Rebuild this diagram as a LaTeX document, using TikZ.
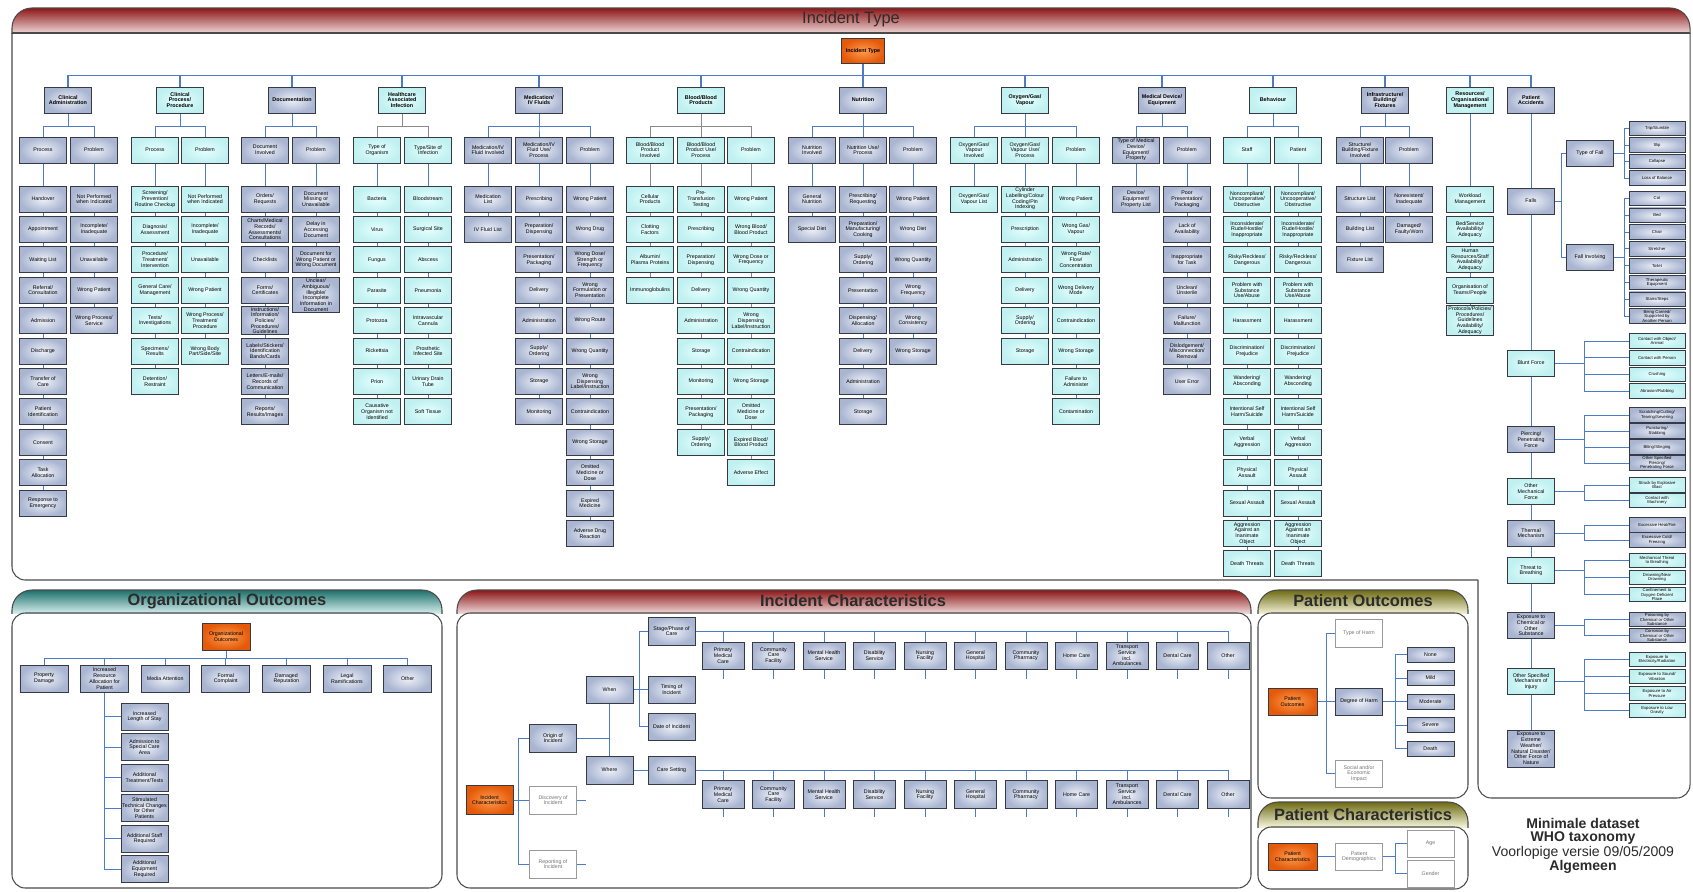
\documentclass[tikz,border=0pt]{standalone}
\usepackage{fontspec}
\setmainfont{Liberation Sans}
\definecolor{boxin}{HTML}{EEF1F8}
\definecolor{boxout}{HTML}{A9B5D1}
\definecolor{cyanin}{HTML}{E6FFFF}
\definecolor{cyanout}{HTML}{C0F0F0}
\definecolor{boxedge}{HTML}{353A44}
\definecolor{orin}{HTML}{FF9B4F}
\definecolor{orout}{HTML}{E45A0A}
\definecolor{wedge}{HTML}{9A9A9A}
\definecolor{linkblue}{HTML}{4C7CC6}
\definecolor{linkgray}{HTML}{8A8A8A}
\definecolor{frame}{HTML}{4A4A4A}
\definecolor{itred}{HTML}{8C1616}
\definecolor{itredlow}{HTML}{EED6D6}
\definecolor{ootop}{HTML}{1D6F6A}
\definecolor{oolow}{HTML}{D3ECEB}
\definecolor{potop}{HTML}{6E6A14}
\definecolor{polow}{HTML}{EFEFD2}
\definecolor{titletext}{HTML}{2B2B2B}
\pgfdeclarelayer{bottom}
\pgfdeclarelayer{background}
\pgfsetlayers{bottom,background,main}

\begin{document}
\begin{tikzpicture}[x=0.03cm, y=-0.03cm,
    box/.style={draw=boxedge, line width=0.8pt, minimum width=1.41cm, minimum height=0.78cm, inner sep=0.8pt, align=center, font=\fontsize{4.5}{4.9}\selectfont},
    gbox/.style={box, inner color=boxin, outer color=boxout},
    cbox/.style={box, inner color=cyanin, outer color=cyanout},
    wbox/.style={box, fill=white, draw=wedge, text=black!55},
    obox/.style={box, inner color=orin, outer color=orout},
    catbox/.style={font=\fontsize{4.6}{5}\selectfont\bfseries},
    tinybox/.style={minimum width=1.68cm, minimum height=0.44cm, inner sep=0.4pt, font=\fontsize{3.6}{3.9}\selectfont},
    link/.style={draw=linkblue, line width=0.8pt},
    glink/.style={draw=linkgray, line width=0.8pt},
    panel/.style={draw=frame, line width=0.9pt},
    paneltitle/.style={font=\fontsize{14}{14}\selectfont\bfseries, text=titletext}]
    \begin{pgfonlayer}{bottom}
        \fill[white] (0,0) rectangle (1693,891);
    \end{pgfonlayer}
    \useasboundingbox (0,0) rectangle (1693,891);

    % panels
    \begin{scope}
        \clip (0,0) rectangle (1693,33);
        \shade[top color=itred, bottom color=white, middle color=itredlow, draw=frame, line width=0.9pt, rounded corners=0.6cm] (12,8) rectangle (1690,58);
    \end{scope}
    \draw[panel] (12,33) -- (1690,33);
    \draw[panel, rounded corners=0.4cm] (12,33) -- (12,580) -- (1478,580);
    \draw[panel, rounded corners=0.4cm] (1478,580) -- (1478,798) -- (1690,798) -- (1690,33);
    \node[font=\fontsize{14}{14}\selectfont, text=titletext] (ittitle) at (851,19) {Incident Type};

    \begin{scope}
        \clip (8,586) rectangle (446,613);
        \shade[top color=ootop, bottom color=white, middle color=oolow, draw=frame, line width=0.9pt, rounded corners=0.6cm] (12,590) rectangle (442,636);
    \end{scope}
    \draw[panel, rounded corners=0.4cm] (12,613) -- (12,888) -- (442,888) -- (442,613) -- cycle;
    \node[paneltitle] (ootitle) at (227,601) {Organizational Outcomes};

    \begin{scope}
        \clip (453,586) rectangle (1255,613);
        \shade[top color=itred, bottom color=white, middle color=itredlow, draw=frame, line width=0.9pt, rounded corners=0.6cm] (457,590) rectangle (1251,636);
    \end{scope}
    \draw[panel, rounded corners=0.4cm] (457,613) -- (457,888) -- (1251,888) -- (1251,613) -- cycle;
    \node[paneltitle] (ictitle) at (853,601) {Incident Characteristics};

    \begin{scope}
        \clip (1254,586) rectangle (1472,613);
        \shade[top color=potop, bottom color=white, middle color=polow, draw=frame, line width=0.9pt, rounded corners=0.6cm] (1258,590) rectangle (1468,636);
    \end{scope}
    \draw[panel, rounded corners=0.4cm] (1258,613) -- (1258,798) -- (1468,798) -- (1468,613) -- cycle;
    \node[paneltitle] (potitle) at (1363,601) {Patient Outcomes};

    \begin{scope}
        \clip (1254,798) rectangle (1472,827);
        \shade[top color=potop, bottom color=white, middle color=polow, draw=frame, line width=0.9pt, rounded corners=0.6cm] (1258,802) rectangle (1468,850);
    \end{scope}
    \draw[panel, rounded corners=0.4cm] (1258,827) -- (1258,889) -- (1468,889) -- (1468,827) -- cycle;
    \node[paneltitle] (pctitle) at (1363,814.5) {Patient Characteristics};

    % incident type: root and categories
    \node[obox, catbox, minimum width=1.29cm, minimum height=0.75cm] (root) at (863,51) {Incident Type};
    \node[gbox, catbox] (ca) at (68,100) {Clinical\\Administration};
    \node[cbox, catbox] (cp) at (180,100) {Clinical\\Process/\\Procedure};
    \node[gbox, catbox] (doc) at (292,100) {Documentation};
    \node[cbox, catbox] (hai) at (402,100) {Healthcare\\Associated\\Infection};
    \node[gbox, catbox] (med) at (539,100) {Medication/\\IV Fluids};
    \node[cbox, catbox] (bld) at (701,100) {Blood/Blood\\Products};
    \node[gbox, catbox] (nut) at (863,100) {Nutrition};
    \node[cbox, catbox] (oxy) at (1025,100) {Oxygen/Gas/\\Vapour};
    \node[gbox, catbox] (dev) at (1162,100) {Medical Device/\\Equipment};
    \node[cbox, catbox] (beh) at (1273,100) {Behaviour};
    \node[gbox, catbox] (inf) at (1385,100) {Infrastructure/\\Building/\\Fixtures};
    \node[cbox, catbox] (res) at (1470,100) {Resources/\\Organisational\\Management};
    \node[gbox, catbox] (pa) at (1531,100) {Patient\\Accidents};

    % second level
    \node[gbox] (ca1) at (43,150) {Process};
    \node[gbox] (ca2) at (94,150) {Problem};
    \node[cbox] (cp1) at (155,150) {Process};
    \node[cbox] (cp2) at (205,150) {Problem};
    \node[gbox] (doc1) at (265,150) {Document\\Involved};
    \node[gbox] (doc2) at (316,150) {Problem};
    \node[cbox] (hai1) at (377,150) {Type of\\Organism};
    \node[cbox] (hai2) at (428,150) {Type/Site of\\Infection};
    \node[gbox] (med1) at (488,150) {Medication/IV\\Fluid Involved};
    \node[gbox] (med2) at (539,150) {Medication/IV\\Fluid Use/\\Process};
    \node[gbox] (med3) at (590,150) {Problem};
    \node[cbox] (bld1) at (650,150) {Blood/Blood\\Product\\Involved};
    \node[cbox] (bld2) at (701,150) {Blood/Blood\\Product Use/\\Process};
    \node[cbox] (bld3) at (751,150) {Problem};
    \node[gbox] (nut1) at (812,150) {Nutrition\\Involved};
    \node[gbox] (nut2) at (863,150) {Nutrition Use/\\Process};
    \node[gbox] (nut3) at (913,150) {Problem};
    \node[cbox] (oxy1) at (974,150) {Oxygen/Gas/\\Vapour\\Involved};
    \node[cbox] (oxy2) at (1025,150) {Oxygen/Gas/\\Vapour Use/\\Process};
    \node[cbox] (oxy3) at (1076,150) {Problem};
    \node[gbox] (dev1) at (1136,150) {Type of Medical\\Device/\\Equipment/\\Property};
    \node[gbox] (dev2) at (1187,150) {Problem};
    \node[cbox] (beh1) at (1247,150) {Staff};
    \node[cbox] (beh2) at (1298,150) {Patient};
    \node[gbox] (inf1) at (1360,150) {Structure/\\Building/Fixture\\Involved};
    \node[gbox] (inf2) at (1409,150) {Problem};

    % third level columns
    \foreach \t [count=\i] in {Handover, Appointment, Waiting List, {Referral/\\Consultation}, Admission, Discharge, {Transfer of\\Care}, {Patient\\Identification}, Consent, {Task\\Allocation}, {Response to\\Emergency}}
        \node[gbox] (ca1-\i) at (43,{199+30.4*(\i-1)}) {\t};
    \foreach \t [count=\i] in {{Not Performed\\when Indicated}, {Incomplete/\\Inadequate}, Unavailable, Wrong Patient, {Wrong Process/\\Service}}
        \node[gbox] (ca2-\i) at (94,{199+30.4*(\i-1)}) {\t};
    \foreach \t [count=\i] in {{Screening/\\Prevention/\\Routine Checkup}, {Diagnosis/\\Assessment}, {Procedure/\\Treatment/\\Intervention}, {General Care/\\Management}, {Tests/\\Investigations}, {Specimens/\\Results}, {Detention/\\Restraint}}
        \node[cbox] (cp1-\i) at (155,{199+30.4*(\i-1)}) {\t};
    \foreach \t [count=\i] in {{Not Performed\\when Indicated}, {Incomplete/\\Inadequate}, Unavailable, Wrong Patient, {Wrong Process/\\Treatment/\\Procedure}, {Wrong Body\\Part/Side/Site}}
        \node[cbox] (cp2-\i) at (205,{199+30.4*(\i-1)}) {\t};
    \foreach \t [count=\i] in {{Orders/\\Requests}, {Charts/Medical\\Records/\\Assessments/\\Consultations}, Checklists, {Forms/\\Certificates}, {Instructions/\\Information/\\Policies/\\Procedures/\\Guidelines}, {Labels/Stickers/\\Identification\\Bands/Cards}, {Letters/E-mails/\\Records of\\Communication}, {Reports/\\Results/Images}}
        \node[gbox] (doc1-\i) at (265,{199+30.4*(\i-1)}) {\t};
    \foreach \t [count=\i] in {{Document\\Missing or\\Unavailable}, {Delay in\\Accessing\\Document}, {Document for\\Wrong Patient or\\Wrong Document}}
        \node[gbox] (doc2-\i) at (316,{199+30.4*(\i-1)}) {\t};
    \node[gbox] (doc2-4) at (316,295) {Unclear/\\Ambiguous/\\Illegible/\\Incomplete\\Information in\\Document};
    \foreach \t [count=\i] in {Bacteria, Virus, Fungus, Parasite, Protozoa, Rickettsia, Prion, {Causative\\Organism not\\Identified}}
        \node[cbox] (hai1-\i) at (377,{199+30.4*(\i-1)}) {\t};
    \foreach \t [count=\i] in {Bloodstream, Surgical Site, Abscess, Pneumonia, {Intravascular\\Cannula}, {Prosthetic\\Infected Site}, {Urinary Drain\\Tube}, Soft Tissue}
        \node[cbox] (hai2-\i) at (428,{199+30.4*(\i-1)}) {\t};
    \foreach \t [count=\i] in {{Medication\\List}, IV Fluid List}
        \node[gbox] (med1-\i) at (488,{199+30.4*(\i-1)}) {\t};
    \foreach \t [count=\i] in {Prescribing, {Preparation/\\Dispensing}, {Presentation/\\Packaging}, Delivery, Administration, {Supply/\\Ordering}, Storage, Monitoring}
        \node[gbox] (med2-\i) at (539,{199+30.4*(\i-1)}) {\t};
    \foreach \t [count=\i] in {Wrong Patient, Wrong Drug, {Wrong Dose/\\Strength or\\Frequency}, {Wrong\\Formulation or\\Presentation}, Wrong Route, Wrong Quantity, {Wrong\\Dispensing\\Label/Instruction}, Contraindication, Wrong Storage, {Omitted\\Medicine or\\Dose}, {Expired\\Medicine}, {Adverse Drug\\Reaction}}
        \node[gbox] (med3-\i) at (590,{199+30.4*(\i-1)}) {\t};
    \foreach \t [count=\i] in {{Cellular\\Products}, {Clotting\\Factors}, {Albumin/\\Plasma Proteins}, Immunoglobulins}
        \node[cbox] (bld1-\i) at (650,{199+30.4*(\i-1)}) {\t};
    \foreach \t [count=\i] in {{Pre-\\Transfusion\\Testing}, Prescribing, {Preparation/\\Dispensing}, Delivery, Administration, Storage, Monitoring, {Presentation/\\Packaging}, {Supply/\\Ordering}}
        \node[cbox] (bld2-\i) at (701,{199+30.4*(\i-1)}) {\t};
    \foreach \t [count=\i] in {Wrong Patient, {Wrong Blood/\\Blood Product}, {Wrong Dose or\\Frequency}, Wrong Quantity, {Wrong\\Dispensing\\Label/Instruction}, Contraindication, Wrong Storage, {Omitted\\Medicine or\\Dose}, {Expired Blood/\\Blood Product}, Adverse Effect}
        \node[cbox] (bld3-\i) at (751,{199+30.4*(\i-1)}) {\t};
    \foreach \t [count=\i] in {{General\\Nutrition}, Special Diet}
        \node[gbox] (nut1-\i) at (812,{199+30.4*(\i-1)}) {\t};
    \foreach \t [count=\i] in {{Prescribing/\\Requesting}, {Preparation/\\Manufacturing/\\Cooking}, {Supply/\\Ordering}, Presentation, {Dispensing/\\Allocation}, Delivery, Administration, Storage}
        \node[gbox] (nut2-\i) at (863,{199+30.4*(\i-1)}) {\t};
    \foreach \t [count=\i] in {Wrong Patient, Wrong Diet, Wrong Quantity, {Wrong\\Frequency}, {Wrong\\Consistency}, Wrong Storage}
        \node[gbox] (nut3-\i) at (913,{199+30.4*(\i-1)}) {\t};
    \foreach \t [count=\i] in {{Oxygen/Gas/\\Vapour List}}
        \node[cbox] (oxy1-\i) at (974,{199+30.4*(\i-1)}) {\t};
    \foreach \t [count=\i] in {{Cylinder\\Labelling/Colour\\Coding/Pin\\Indexing}, Prescription, Administration, Delivery, {Supply/\\Ordering}, Storage}
        \node[cbox] (oxy2-\i) at (1025,{199+30.4*(\i-1)}) {\t};
    \foreach \t [count=\i] in {Wrong Patient, {Wrong Gas/\\Vapour}, {Wrong Rate/\\Flow/\\Concentration}, {Wrong Delivery\\Mode}, Contraindication, Wrong Storage, {Failure to\\Administer}, Contamination}
        \node[cbox] (oxy3-\i) at (1076,{199+30.4*(\i-1)}) {\t};
    \foreach \t [count=\i] in {{Device/\\Equipment/\\Property List}}
        \node[gbox] (dev1-\i) at (1136,{199+30.4*(\i-1)}) {\t};
    \foreach \t [count=\i] in {{Poor\\Presentation/\\Packaging}, {Lack of\\Availability}, {Inappropriate\\for Task}, {Unclean/\\Unsterile}, {Failure/\\Malfunction}, {Dislodgement/\\Misconnection/\\Removal}, User Error}
        \node[gbox] (dev2-\i) at (1187,{199+30.4*(\i-1)}) {\t};
    \foreach \c/\x in {beh1/1247, beh2/1298}
        \foreach \t [count=\i] in {{Noncompliant/\\Uncooperative/\\Obstructive}, {Inconsiderate/\\Rude/Hostile/\\Inappropriate}, {Risky/Reckless/\\Dangerous}, {Problem with\\Substance\\Use/Abuse}, Harassment, {Discrimination/\\Prejudice}, {Wandering/\\Absconding}, {Intentional Self\\Harm/Suicide}, {Verbal\\Aggression}, {Physical\\Assault}, Sexual Assault, {Aggression\\Against an\\Inanimate\\Object}, Death Threats}
            \node[cbox] (\c-\i) at (\x,{199+30.4*(\i-1)}) {\t};
    \foreach \t [count=\i] in {Structure List, Building List, Fixture List}
        \node[gbox] (inf1-\i) at (1360,{199+30.4*(\i-1)}) {\t};
    \foreach \t [count=\i] in {{Nonexistent/\\Inadequate}, {Damaged/\\Faulty/Worn}}
        \node[gbox] (inf2-\i) at (1409,{199+30.4*(\i-1)}) {\t};
    \foreach \t [count=\i] in {{Workload\\Management}, {Bed/Service\\Availability/\\Adequacy}, {Human\\Resources/Staff\\Availability/\\Adequacy}, {Organisation of\\Teams/People}, {Protocols/Policies/\\Procedures/\\Guidelines\\Availability/\\Adequacy}}
        \node[cbox] (res-\i) at (1470,{199+30.4*(\i-1)}) {\t};

    % patient accidents
    \node[gbox] (fall) at (1531,201) {Falls};
    \node[gbox] (tof) at (1590,153) {Type of Fall};
    \node[gbox] (finv) at (1590,257) {Fall Involving};
    \foreach \t [count=\i] in {Trip/Stumble, Slip, Collapse, Loss of Balance}
        \node[gbox, tinybox] (tf-\i) at (1657,{128.5+16.5*(\i-1)}) {\t};
    \foreach \t [count=\i] in {Cot, Bed, Chair, Stretcher, Toilet, {Therapeutic\\Equipment}, Stairs/Steps, {Being Carried/\\Supported by\\Another Person}}
        \node[gbox, tinybox] (fi-\i) at (1657,{198.5+16.8*(\i-1)}) {\t};
    \node[cbox] (blunt) at (1531,363) {Blunt Force};
    \foreach \t [count=\i] in {{Contact with Object/\\Animal}, Contact with Person, Crushing, Abrasion/Rubbing}
        \node[cbox, tinybox] (bf-\i) at (1657,{341+16.7*(\i-1)}) {\t};
    \node[gbox] (pierce) at (1531,439.5) {Piercing/\\Penetrating\\Force};
    \foreach \t [count=\i] in {{Scratching/Cutting/\\Tearing/Severing}, {Puncturing/\\Stabbing}, Biting/Stinging, {Other Specified\\Piercing/\\Penetrating Force}}
        \node[gbox, tinybox] (pf-\i) at (1657,{415+16*(\i-1)}) {\t};
    \node[cbox] (omf) at (1531,491.5) {Other\\Mechanical\\Force};
    \foreach \t [count=\i] in {{Struck by Explosive\\Blast}, {Contact with\\Machinery}}
        \node[cbox, tinybox] (mf-\i) at (1657,{485+15.5*(\i-1)}) {\t};
    \node[gbox] (therm) at (1531,533) {Thermal\\Mechanism};
    \foreach \t [count=\i] in {Excessive Heat/Fire, {Excessive Cold/\\Freezing}}
        \node[gbox, tinybox] (tm-\i) at (1657,{525+15*(\i-1)}) {\t};
    \node[cbox] (breath) at (1531,570.5) {Threat to\\Breathing};
    \foreach \t [count=\i] in {{Mechanical Threat\\to Breathing}, {Drowning/Near\\Drowning}, {Confinement to\\Oxygen-Deficient\\Place}}
        \node[cbox, tinybox] (tb-\i) at (1657,{560.5+17*(\i-1)}) {\t};
    \node[gbox] (chem) at (1531,625.5) {Exposure to\\Chemical or\\Other\\Substance};
    \foreach \t [count=\i] in {{Poisoning by\\Chemical or Other\\Substance}, {Corrosion by\\Chemical or Other\\Substance}}
        \node[gbox, tinybox] (ch-\i) at (1657,{619.5+16*(\i-1)}) {\t};
    \node[cbox] (oth) at (1531,681.5) {Other Specified\\Mechanism of\\Injury};
    \foreach \t [count=\i] in {{Exposure to\\Electricity/Radiation}, {Exposure to Sound/\\Vibration}, {Exposure to Air\\Pressure}, {Exposure to Low\\Gravity}}
        \node[cbox, tinybox] (os-\i) at (1657,{659.5+17*(\i-1)}) {\t};
    \node[gbox, minimum height=1.11cm] (weather) at (1531,748.5) {Exposure to\\Extreme\\Weather/\\Natural Disaster/\\Other Force of\\Nature};

    % organizational outcomes
    \node[obox, minimum width=1.44cm, minimum height=0.81cm] (oo) at (226,636.5) {Organizational\\Outcomes};
    \foreach \t [count=\i] in {{Property\\Damage}, {Increased\\Resource\\Allocation for\\Patient}, Media Attention, {Formal\\Complaint}, {Damaged\\Reputation}, {Legal\\Ramifications}, Other}
        \node[gbox, minimum width=1.44cm, minimum height=0.81cm] (oo-\i) at ({44+60.6*(\i-1)},678.5) {\t};
    \foreach \t [count=\i] in {{Increased\\Length of Stay}, {Admission to\\Special Care\\Area}, {Additional\\Treatment/Tests}, {Stimulated\\Technical Changes\\for Other\\Patients}, {Additional Staff\\Required}, {Additional\\Equipment\\Required}}
        \node[gbox, minimum height=0.81cm] (ir-\i) at (144.5,{716.5+30.5*(\i-1)}) {\t};

    % incident characteristics
    \node[obox, minimum height=0.87cm] (ic) at (489.5,800) {Incident\\Characteristics};
    \node[gbox, minimum height=0.84cm] (orig) at (553,738) {Origin of\\Incident};
    \node[wbox, minimum height=0.84cm] (disc) at (553,800) {Discovery of\\Incident};
    \node[wbox, minimum height=0.84cm] (rep) at (553,864) {Reporting of\\Incident};
    \node[gbox, minimum height=0.81cm] (when) at (609.5,689.5) {When};
    \node[gbox, minimum height=0.84cm] (where) at (609.5,770) {Where};
    \node[gbox, minimum height=0.84cm] (stg) at (671.5,631) {Stage/Phase of\\Care};
    \node[gbox, minimum height=0.81cm] (tim) at (671.5,689.5) {Timing of\\Incident};
    \node[gbox, minimum height=0.81cm] (date) at (671.5,726.5) {Date of Incident};
    \node[gbox, minimum height=0.84cm] (cs) at (671.5,770) {Care Setting};
    \foreach \t [count=\i] in {{Primary\\Medical\\Care}, {Community\\Care\\Facility}, {Mental Health\\Service}, {Disability\\Service}, {Nursing\\Facility}, {General\\Hospital}, {Community\\Pharmacy}, Home Care, {Transport\\Service\\incl.\\Ambulances}, Dental Care, Other} {
        \node[gbox, minimum width=1.26cm, minimum height=0.81cm] (st-\i) at ({723+50.5*(\i-1)},655.5) {\t};
        \node[gbox, minimum width=1.26cm, minimum height=0.84cm] (cs-\i) at ({723+50.5*(\i-1)},794.5) {\t};
    }

    % patient outcomes and characteristics
    \node[obox, minimum width=1.47cm, minimum height=0.81cm] (po) at (1292.5,701.5) {Patient\\Outcomes};
    \node[wbox, minimum height=0.84cm] (toh) at (1359,633) {Type of Harm};
    \node[gbox, minimum height=0.81cm] (doh) at (1359,701.5) {Degree of Harm};
    \node[wbox, minimum height=0.81cm] (sei) at (1359,773.5) {Social and/or\\Economic\\Impact};
    \foreach \t [count=\i] in {None, Mild, Moderate, Severe, Death}
        \node[gbox, minimum height=0.45cm] (deg-\i) at (1430.5,{654.5+23.5*(\i-1)}) {\t};
    \node[obox, minimum width=1.47cm, minimum height=0.81cm] (pc) at (1292.5,856.5) {Patient\\Characteristics};
    \node[wbox, minimum height=0.81cm] (pdem) at (1359,856.5) {Patient\\Demographics};
    \node[wbox, minimum height=0.81cm] (age) at (1430.5,843.5) {Age};
    \node[wbox, minimum height=0.81cm] (gen) at (1430.5,873.5) {Gender};

    % caption
    \node[align=center, font=\fontsize{12}{10.9}\selectfont, text=titletext] (note) at (1583,846) {\textbf{Minimale dataset}\\\textbf{WHO taxonomy}\\Voorlopige versie 09/05/2009\\\textbf{Algemeen}};

    % connectors
    \begin{pgfonlayer}{background}
        \foreach \c in {ca,cp,doc,hai,med,bld,nut,oxy,dev,beh,inf,res,pa}
            \draw[link, line width=1pt] (root.south) -- ++(0,11.5) -| (\c.north);
        \foreach \p/\c in {ca/ca1,ca/ca2,cp/cp1,cp/cp2,doc/doc1,doc/doc2,med/med1,med/med2,med/med3,nut/nut1,nut/nut2,nut/nut3,oxy/oxy1,oxy/oxy2,oxy/oxy3,dev/dev1,dev/dev2,beh/beh1,beh/beh2,inf/inf1,inf/inf2}
            \draw[link] (\p.south) -- ++(0,12.5) -| (\c.north);
        \foreach \p/\c in {hai/hai1,hai/hai2,bld/bld1,bld/bld2,bld/bld3}
            \draw[glink] (\p.south) -- ++(0,12.5) -| (\c.north);
        \foreach \c/\n in {ca1/11,ca2/5,cp1/7,cp2/6,doc1/8,doc2/4,hai1/8,hai2/8,med1/2,med2/8,med3/12,nut1/2,nut2/8,nut3/6,oxy1/1,oxy2/6,oxy3/8,dev1/1,dev2/7,beh1/13,beh2/13,inf1/3,inf2/2,res/5}
            \draw[link] (\c) -- (\c-\n);
        \foreach \c/\n in {bld1/4,bld2/9,bld3/10}
            \draw[glink] (\c) -- (\c-\n);
        % patient accidents
        \draw[link] (pa) -- (weather);
        \foreach \c in {tof,finv}
            \draw[link] (fall.east) -- ++(6,0) |- (\c.west);
        \foreach \i in {1,...,4}
            \draw[link] (tof.east) -- ++(10,0) |- (tf-\i.west);
        \foreach \i in {1,...,8}
            \draw[link] (finv.east) -- ++(10,0) |- (fi-\i.west);
        \foreach \p/\c/\n in {blunt/bf/4, pierce/pf/4, omf/mf/2, therm/tm/2, breath/tb/3, chem/ch/2, oth/os/4}
            \foreach \i in {1,...,\n}
                \draw[link] (\p.east) -- ++(29,0) |- (\c-\i.west);
        % lower panels
        \foreach \i in {1,...,7}
            \draw[link] (oo.south) -- ++(0,8) -| (oo-\i.north);
        \foreach \i in {1,...,6}
            \draw[link] (oo-2) |- (ir-\i.west);
        \foreach \c in {orig,disc,rep}
            \draw[link] (ic.east) -- ++(5,0) |- (\c.west);
        \draw[link] (disc.east) -- ++(9,0);
        \draw[link] (rep.east) -- ++(9,0);
        \draw[link] (orig.east) -- (orig.east -| when);
        \draw[link] (when) -- (where);
        \foreach \c in {stg,tim,date}
            \draw[link] (when.east) -- ++(6,0) |- (\c.west);
        \draw[link] (where) -- (cs);
        \draw[link] (stg.east) -- (stg.east -| st-11);
        \draw[link] (cs.east) -- (cs.east -| cs-11);
        \foreach \i in {1,...,11} {
            \draw[link] (st-\i) -- (st-\i |- stg);
            \draw[link] (st-\i.south) -- ++(0,10);
            \draw[link] (cs-\i) -- (cs-\i |- cs);
            \draw[link] (cs-\i.south) -- ++(0,8);
        }
        \foreach \c in {toh,doh,sei}
            \draw[link] (po.east) -- ++(9,0) |- (\c.west);
        \foreach \i in {1,...,5}
            \draw[link] (doh.east) -- ++(12.5,0) |- (deg-\i.west);
        \draw[link] (pc) -- (pdem);
        \foreach \c in {age,gen}
            \draw[link] (pdem.east) -- ++(12.5,0) |- (\c.west);
    \end{pgfonlayer}
\end{tikzpicture}
\end{document}
